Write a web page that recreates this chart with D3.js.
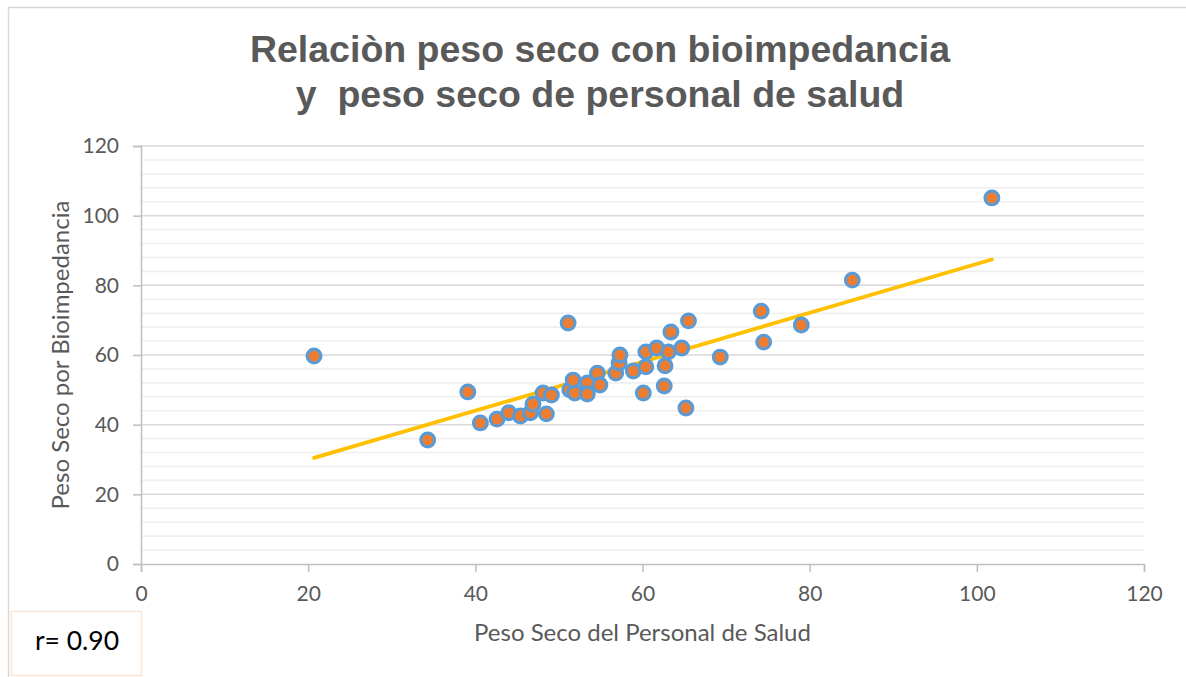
<!DOCTYPE html>
<html>
<head>
<meta charset="utf-8">
<script src="https://cdn.jsdelivr.net/npm/d3@7"></script>
<style>
  body { margin: 0; background: #fff; }
  #container { width: 1186px; height: 677px; overflow: hidden; }
</style>
</head>
<body>
<div id="container"></div>
<script>
// Peso seco del personal de salud (x) vs peso seco por bioimpedancia (y)
const pesoPersonal = [20.7, 34.3, 39.1, 40.6, 42.6, 44.0, 45.4, 46.6, 46.9, 48.1,
  49.1, 48.5, 51.1, 51.3, 51.9, 51.7, 53.4, 53.4, 54.6, 54.9,
  56.8, 57.2, 57.3, 58.9, 60.1, 60.4, 60.4, 61.7, 62.6, 62.7,
  63.1, 63.4, 64.7, 65.2, 65.5, 69.3, 74.2, 74.5, 79.0, 85.1, 101.8];
const pesoBioimp = [59.7, 35.6, 49.4, 40.5, 41.6, 43.4, 42.5, 43.4, 45.9, 49.1,
  48.5, 43.1, 69.2, 50.0, 49.1, 52.8, 52.0, 48.8, 54.8, 51.4,
  54.8, 57.7, 60.0, 55.4, 49.1, 56.6, 60.9, 62.0, 51.1, 56.9,
  60.9, 66.6, 62.0, 44.8, 69.8, 59.4, 72.6, 63.7, 68.6, 81.5, 105.1];
const xTicks = [0, 20, 40, 60, 80, 100, 120];
const yTicks = [0, 20, 40, 60, 80, 100, 120];
const titleLines = ["Relaciòn peso seco con bioimpedancia", "y  peso seco de personal de salud"];
const rLabel = "r= 0.90";

document.addEventListener("DOMContentLoaded", function() {
    const width = 1186, height = 677;
    const margin = {left: 141, right: 42, top: 146, bottom: 113};

    const points = pesoPersonal.map((x, i) => ({x: x, y: pesoBioimp[i]}));

    const x = d3.scaleLinear().domain([0, 120]).range([margin.left, width - margin.right]);
    const y = d3.scaleLinear().domain([0, 120]).range([height - margin.bottom, margin.top]);

    const svg = d3.select("#container").append("svg")
        .attr("width", width)
        .attr("height", height)
        .attr("font-family", "Lato, 'Open Sans', sans-serif");

    // chart frame (only top/left visible in the shot)
    svg.append("rect")
        .attr("x", 8.5).attr("y", 7.5)
        .attr("width", width + 20).attr("height", height + 20)
        .attr("fill", "none")
        .attr("stroke", "#d9d9d9")
        .attr("stroke-width", 1.5);

    // minor gridlines every 4
    svg.append("g")
      .selectAll("line")
      .data(d3.range(4, 120, 4).filter(v => v % 20 !== 0))
      .join("line")
        .attr("x1", x(0)).attr("x2", x(120))
        .attr("y1", d => y(d)).attr("y2", d => y(d))
        .attr("stroke", "#efefef")
        .attr("stroke-width", 1.6);

    // major gridlines
    svg.append("g")
      .selectAll("line")
      .data(yTicks.filter(v => v > 0))
      .join("line")
        .attr("x1", x(0)).attr("x2", x(120))
        .attr("y1", d => y(d)).attr("y2", d => y(d))
        .attr("stroke", "#d9d9d9")
        .attr("stroke-width", 1.5);

    // axes
    const yAxis = svg.append("g")
        .attr("transform", `translate(${x(0)},0)`)
        .call(d3.axisLeft(y).tickValues(yTicks).tickSize(8).tickPadding(14));
    const xAxis = svg.append("g")
        .attr("transform", `translate(0,${y(0)})`)
        .call(d3.axisBottom(x).tickValues(xTicks).tickSize(8).tickPadding(14));

    [yAxis, xAxis].forEach(g => {
        g.select(".domain").attr("stroke", "#bfbfbf").attr("stroke-width", 1.5);
        g.selectAll(".tick line").attr("stroke", "#bfbfbf").attr("stroke-width", 1.5);
        g.selectAll(".tick text")
            .attr("fill", "#595959")
            .attr("font-size", 21)
            .attr("font-family", "Lato, sans-serif");
    });

    // trendline from least squares
    const mx = d3.mean(points, d => d.x), my = d3.mean(points, d => d.y);
    const slope = d3.sum(points, d => (d.x - mx) * (d.y - my)) / d3.sum(points, d => (d.x - mx) ** 2);
    const intercept = my - slope * mx;
    const [xmin, xmax] = d3.extent(points, d => d.x);
    svg.append("line")
        .attr("x1", x(xmin)).attr("y1", y(intercept + slope * xmin))
        .attr("x2", x(xmax)).attr("y2", y(intercept + slope * xmax))
        .attr("stroke", "#ffc000")
        .attr("stroke-width", 3.8)
        .attr("stroke-linecap", "round");

    // points
    svg.append("g")
      .selectAll("circle")
      .data(points)
      .join("circle")
        .attr("cx", d => x(d.x))
        .attr("cy", d => y(d.y))
        .attr("r", 6.9)
        .attr("fill", "#ed7d31")
        .attr("stroke", "#5b9bd5")
        .attr("stroke-width", 3.1);

    // title
    svg.append("text")
        .attr("x", 600)
        .attr("text-anchor", "middle")
        .attr("font-family", "'Liberation Sans', Arial, sans-serif")
        .attr("font-weight", "bold")
        .attr("font-size", 37.5)
        .attr("fill", "#595959")
        .style("white-space", "pre")
      .selectAll("tspan")
      .data(titleLines)
      .join("tspan")
        .attr("x", 600)
        .attr("y", (d, i) => 62 + i * 45)
        .text(d => d);

    // axis titles
    svg.append("text")
        .attr("transform", `translate(69,${(y(0) + y(120)) / 2}) rotate(-90)`)
        .attr("text-anchor", "middle")
        .attr("font-size", 24)
        .attr("fill", "#595959")
        .text("Peso Seco por Bioimpedancia");
    svg.append("text")
        .attr("x", (x(0) + x(120)) / 2)
        .attr("y", 641)
        .attr("text-anchor", "middle")
        .attr("font-size", 24)
        .attr("fill", "#595959")
        .text("Peso Seco del Personal de Salud");

    // r box
    svg.append("rect")
        .attr("x", 11.5).attr("y", 611.5)
        .attr("width", 130).attr("height", 64)
        .attr("fill", "#fff")
        .attr("stroke", "#fbe5d6")
        .attr("stroke-width", 1.5);
    svg.append("text")
        .attr("x", 77).attr("y", 650)
        .attr("text-anchor", "middle")
        .attr("font-size", 26.5)
        .attr("fill", "#000")
        .text(rLabel);
});
</script>
</body>
</html>
